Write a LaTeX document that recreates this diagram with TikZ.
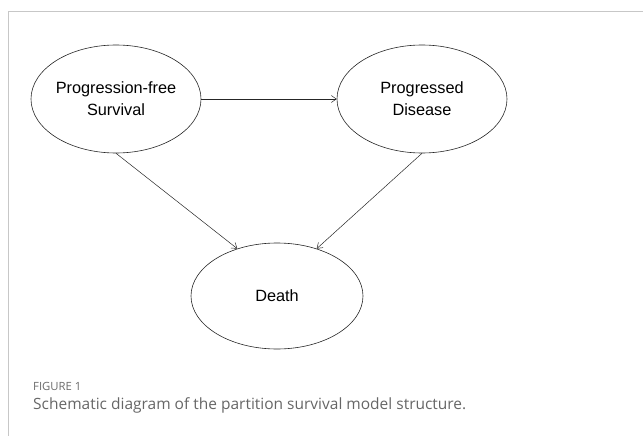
\documentclass[tikz,border=0pt]{standalone}
\usepackage{fontspec}
\setmainfont{Liberation Sans}
\newfontfamily\capfont{Open Sans}
\usetikzlibrary{shapes.geometric,arrows.meta}
\begin{document}
\begin{tikzpicture}[x=1pt,y=-1pt,
  state/.style={draw=black!85,line width=0.6pt,ellipse,minimum width=170pt,minimum height=108pt,inner xsep=-40pt,inner ysep=-20pt,align=center,font=\fontsize{16.3}{22}\selectfont},
  conn/.style={draw=black!85,line width=0.5pt,-{Straight Barb[length=5pt,width=7pt]}}]
\useasboundingbox (0,0) rectangle (643,436);
\draw[black!22,line width=0.8pt] (8,436) -- (8,11) -- (643,11);
\node[state] (pfs) at (116,99) {Progression-free\\Survival};
\node[state] (pd) at (422,99) {Progressed\\Disease};
\node[state,minimum width=172pt,minimum height=106pt] (death) at (277,296) {Death};
\draw[conn] (pfs.east) -- (pd.west);
\draw[conn] (pfs.south) -- (death.130);
\draw[conn] (pd.south) -- (death.50);
\node[anchor=base west,inner sep=0pt,text=black!58,font=\capfont\fontsize{11.3}{14}\selectfont] (fig) at (33,390) {FIGURE 1};
\node[anchor=base west,inner sep=0pt,text=black!60,font=\capfont\fontsize{15.5}{18}\selectfont] (cap) at (33,409) {Schematic diagram of the partition survival model structure.};
\end{tikzpicture}
\end{document}
